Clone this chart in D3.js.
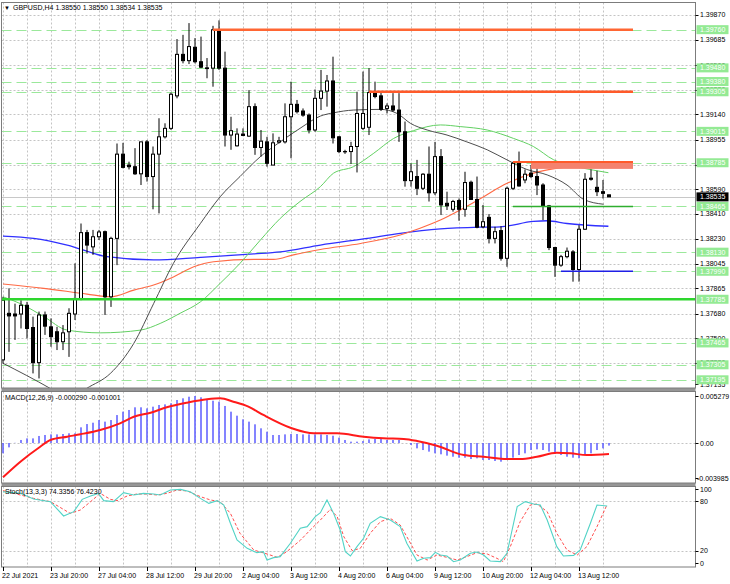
<!DOCTYPE html>
<html>
<head>
<meta charset="utf-8">
<script src="https://cdn.jsdelivr.net/npm/d3@7"></script>
<style>
  body { margin: 0; background: #fff; }
  svg text { font-family: "Liberation Sans", Arial, sans-serif; font-size: 7px; fill: #000; }
</style>
</head>
<body>
<script>
// ---- data ----
const opens = [1.37341,1.37682,1.37677,1.37677,1.37741,1.37578,1.37321,1.37670,1.37583,1.37547,
  1.37474,1.37547,1.37677,1.37791,1.38273,1.38169,1.38243,1.38280,1.37803,1.38231,
  1.38848,1.38768,1.38756,1.38704,1.38938,1.38684,1.38848,1.38975,1.39037,1.39275,
  1.39579,1.39533,1.39631,1.39525,1.39480,1.39478,1.39759,1.39478,1.38988,1.38909,
  1.38995,1.38980,1.39196,1.38897,1.38938,1.38768,1.38936,1.38938,1.39122,1.39213,
  1.39164,1.39134,1.39025,1.39257,1.39310,1.39384,1.38975,1.38867,1.38867,1.38904,
  1.39037,1.39045,1.39295,1.39275,1.39183,1.39201,1.39171,1.39012,1.38654,1.38684,
  1.38598,1.38701,1.38565,1.38830,1.38488,1.38444,1.38508,1.38444,1.38642,1.38516,
  1.38316,1.38385,1.38231,1.38288,1.38085,1.38598,1.38781,1.38659,1.38709,1.38684,
  1.38622,1.38469,1.38164,1.38035,1.38097,1.38132,1.38003,1.38298,1.38672,1.38605,
  1.38573,1.38550];
const highs = [1.37803,1.37865,1.37753,1.37778,1.37766,1.37658,1.37695,1.37695,1.37645,1.37583,
  1.37596,1.37719,1.38048,1.38340,1.38293,1.38293,1.38293,1.38288,1.38243,1.38926,
  1.38931,1.38793,1.38892,1.38938,1.38951,1.38904,1.39111,1.39074,1.39299,1.39691,
  1.39722,1.39808,1.39698,1.39709,1.39552,1.39788,1.39828,1.39599,1.39122,1.39037,
  1.39037,1.39317,1.39220,1.39025,1.38975,1.39000,1.38975,1.39220,1.39379,1.39245,
  1.39183,1.39146,1.39322,1.39465,1.39428,1.39562,1.38980,1.38880,1.38938,1.39305,
  1.39453,1.39478,1.39379,1.39305,1.39220,1.39295,1.39295,1.39087,1.38781,1.38806,
  1.38709,1.38904,1.38938,1.38885,1.38573,1.38513,1.38523,1.38719,1.38654,1.38684,
  1.38476,1.38409,1.38316,1.38320,1.38610,1.38793,1.38867,1.38736,1.38768,1.38786,
  1.38635,1.38476,1.38169,1.38110,1.38164,1.38145,1.38328,1.38709,1.38736,1.38726,
  1.38659,1.38550];
const lows = [1.37316,1.37400,1.37487,1.37571,1.37499,1.37242,1.37205,1.37524,1.37437,1.37413,
  1.37413,1.37363,1.37633,1.37778,1.38120,1.38110,1.38219,1.37670,1.37729,1.38035,
  1.38744,1.38736,1.38696,1.38622,1.38647,1.38444,1.38414,1.38963,1.39025,1.39257,
  1.39513,1.39508,1.39513,1.39478,1.39404,1.39342,1.39465,1.38904,1.38880,1.38904,
  1.38980,1.38975,1.38843,1.38830,1.38756,1.38768,1.38926,1.38926,1.38818,1.39146,
  1.39122,1.39000,1.39012,1.39171,1.39196,1.38926,1.38855,1.38850,1.38776,1.38714,
  1.39025,1.38988,1.39257,1.39164,1.39146,1.39159,1.38938,1.38610,1.38610,1.38548,
  1.38585,1.38501,1.38548,1.38402,1.38439,1.38427,1.38360,1.38390,1.38513,1.38305,
  1.38305,1.38194,1.38194,1.38068,1.38023,1.38585,1.38610,1.38635,1.38672,1.38548,
  1.38365,1.38145,1.37949,1.38023,1.38085,1.37914,1.37914,1.38293,1.38654,1.38541,
  1.38523,1.38534];
const closes = [1.37778,1.37663,1.37663,1.37741,1.37571,1.37321,1.37670,1.37588,1.37511,1.37474,
  1.37539,1.37682,1.37791,1.38273,1.38182,1.38243,1.38278,1.37803,1.38231,1.38848,
  1.38751,1.38756,1.38704,1.38938,1.38684,1.38848,1.38975,1.39037,1.39287,1.39579,
  1.39533,1.39636,1.39525,1.39485,1.39475,1.39759,1.39478,1.38988,1.39020,1.38995,
  1.38985,1.39196,1.38897,1.38943,1.38781,1.38931,1.38946,1.39122,1.39213,1.39159,
  1.39134,1.39025,1.39257,1.39310,1.39384,1.38968,1.38867,1.38865,1.38904,1.39146,
  1.39146,1.39299,1.39270,1.39176,1.39201,1.39171,1.39012,1.38654,1.38719,1.38598,
  1.38701,1.38565,1.38830,1.38476,1.38469,1.38501,1.38444,1.38640,1.38516,1.38313,
  1.38353,1.38231,1.38280,1.38085,1.38598,1.38781,1.38615,1.38701,1.38684,1.38622,
  1.38469,1.38164,1.38035,1.38097,1.38137,1.38003,1.38298,1.38664,1.38664,1.38573,
  1.38561,1.38535];

// moving averages: [bar index, price]
const maBlack = [[0,1.37316],[7.9,1.37131],[11,1.37050],[13.9,1.37131],[17.9,1.37242],[21.8,1.37462],
  [25.1,1.37753],[28.4,1.38048],[32.9,1.38340],[36.2,1.38536],[39.5,1.38684],[42.9,1.38830],
  [46.2,1.38938],[49.5,1.39037],[52.9,1.39127],[55.1,1.39151],[58.4,1.39171],[62.9,1.39176],
  [65.7,1.39146],[67.9,1.39074],[70.7,1.39025],[74,1.38988],[77.3,1.38938],[80.7,1.38880],
  [84,1.38806],[87.3,1.38736],[90.7,1.38696],[94,1.38622],[96.8,1.38516],[100.1,1.38481]];
const maGreen = [[0,1.37803],[2.9,1.37753],[6.8,1.37658],[10.7,1.37559],[16.2,1.37539],[22.9,1.37559],
  [26.2,1.37608],[29.5,1.37682],[32.9,1.37766],[36.2,1.37902],[39.5,1.38048],[42.9,1.38219],
  [46.2,1.38377],[49.5,1.38501],[52.9,1.38610],[55.1,1.38709],[58.4,1.38756],[61.8,1.38855],
  [65.1,1.38963],[68.4,1.39020],[72.9,1.39062],[76.2,1.39050],[80.7,1.39025],[85.1,1.38963],
  [88.4,1.38904],[91.8,1.38806],[95.1,1.38761],[98.4,1.38731],[100.9,1.38712]];
const maOrange = [[0,1.37897],[6.8,1.37865],[14,1.37823],[17.9,1.37803],[21.8,1.37852],[25.1,1.37889],
  [28.4,1.37949],[31.8,1.38023],[35.1,1.38060],[41.8,1.38077],[45.1,1.38077],[48.4,1.38110],
  [52.9,1.38150],[59.6,1.38194],[66.2,1.38256],[69.5,1.38305],[72.9,1.38365],[76.2,1.38439],
  [79.6,1.38523],[82.9,1.38610],[88.4,1.38709],[95.1,1.38761],[100.9,1.38793]];
const maBlue = [[0,1.38248],[5.1,1.38231],[10.7,1.38182],[17.3,1.38097],[25.1,1.38073],[32.9,1.38092],
  [41.8,1.38117],[46.2,1.38132],[52.9,1.38182],[60.7,1.38231],[66.2,1.38268],[72.9,1.38300],
  [79.6,1.38313],[82.9,1.38316],[88.4,1.38355],[90.7,1.38360],[94,1.38340],[100.9,1.38320]];

// horizontal levels
const priceTicks = [1.39870,1.39685,1.39500,1.39320,1.39140,1.38955,1.38770,1.38590,
  1.38410,1.38230,1.38045,1.37865,1.37680,1.37500,1.37320,1.37135];
const dashedLevels = [1.39760,1.39480,1.39380,1.39305,1.39015,1.38785,1.38465,
  1.38130,1.37990,1.37785,1.37465,1.37305,1.37195];
const segPrices = [1.39760,1.39305,1.38790,1.38465,1.37990];
const segStart = [35,61,85,85,93];
const segEnd = 105;
const zoneTop = 1.38790, zoneBottom = 1.38740, zoneStart = 88;
const supportPrice = 1.37785;

// MACD(12,26,9)
const macdHist = [-0.00116,-0.00049,0.00002,0.00034,0.00052,0.00052,0.00079,0.00090,0.00097,0.00097,
  0.00101,0.00109,0.00109,0.00176,0.00213,0.00228,0.00258,0.00240,0.00258,0.00314,
  0.00352,0.00371,0.00401,0.00401,0.00389,0.00408,0.00427,0.00434,0.00446,0.00483,
  0.00502,0.00520,0.00528,0.00513,0.00483,0.00475,0.00464,0.00416,0.00352,0.00307,
  0.00266,0.00240,0.00210,0.00165,0.00127,0.00090,0.00090,0.00097,0.00101,0.00101,
  0.00097,0.00097,0.00097,0.00097,0.00090,0.00082,0.00060,0.00034,0.00015,0.00015,
  0.00022,0.00041,0.00045,0.00045,0.00034,0.00034,0.00034,0.00000,-0.00022,-0.00060,
  -0.00079,-0.00097,-0.00116,-0.00127,-0.00142,-0.00154,-0.00165,-0.00165,-0.00180,-0.00172,
  -0.00191,-0.00191,-0.00202,-0.00210,-0.00191,-0.00165,-0.00135,-0.00116,-0.00079,-0.00071,
  -0.00079,-0.00097,-0.00116,-0.00135,-0.00154,-0.00165,-0.00172,-0.00135,-0.00116,-0.00079,
  -0.00060,-0.00029];
const macdSignal = [[0,-0.00385],[2.9,-0.00210],[6.2,-0.00042],[7.9,0.00034],[10.7,0.00071],
  [12.9,0.00098],[16.2,0.00146],[19.5,0.00221],[21.8,0.00295],[24.6,0.00340],[27.3,0.00401],
  [30.7,0.00453],[34,0.00491],[36.2,0.00502],[38.4,0.00464],[40.9,0.00408],[43.4,0.00315],
  [47.9,0.00172],[51.8,0.00109],[55.7,0.00109],[60.1,0.00071],[63.4,0.00053],[66.8,0.00045],
  [69,0.00023],[72.3,-0.00030],[76.8,-0.00135],[80.1,-0.00154],[84,-0.00180],[86.2,-0.00180],
  [89,-0.00154],[92.3,-0.00109],[94.6,-0.00116],[97.3,-0.00135],[101,-0.00124]];
const macdTicks = [0.005279, 0, -0.003985];
const macdTickText = ["0.005279", "0.00", "-0.003985"];

// Stochastic(13,3,3)
const stochMain = [[0,91.8],[2.9,89.8],[5.1,82.9],[7.9,79.7],[10.1,62.2],[11.8,67.5],[13.2,82.5],
  [14.6,86.6],[15.9,89.8],[16.8,80.9],[18.4,79.7],[20.1,90.7],[21.8,87.8],[23.4,89.8],[25.1,89.0],
  [26.2,87.8],[27.9,93.9],[29.6,94.7],[31.2,91.8],[32.9,83.7],[34.3,77.6],[35.7,80.9],[36.8,75.6],
  [37.9,53.3],[39,32.9],[40.7,22.8],[42.3,17.5],[43.4,18.7],[44,8.5],[45.1,11.4],[46.2,12.6],
  [47.9,28.9],[49.55,47.2],[50.7,49.2],[52.05,61.4],[52.9,66.3],[54,81.7],[55.1,65.4],[56.2,45.1],
  [57.05,18.7],[57.9,13.4],[59,24.8],[60.1,35.0],[61.2,53.3],[62.9,61.4],[64.55,57.3],[66.2,49.2],
  [67.3,28.9],[69,7.3],[70.1,10.6],[71.2,11.4],[72.05,17.9],[72.9,14.6],[74,13.4],[75.1,6.5],
  [76.2,8.5],[77.9,16.7],[79,18.3],[80.1,14.6],[81.2,7.3],[82.9,6.5],[84,16.7],[85.7,73.6],
  [87.05,79.7],[88.45,76.8],[89.55,75.6],[90.7,57.3],[92.3,24.8],[93.4,13.4],[95.1,14.2],
  [96.2,20.7],[97.9,53.3],[99,75.6],[100.7,74.3]];
const stochSignal = [[0,93.1],[2.9,87.8],[5.1,83.7],[7.9,79.7],[11.2,65.4],[12.9,69.5],[14.6,79.7],
  [16.2,89.8],[17.9,82.5],[19,80.9],[20.7,86.6],[22.3,89.0],[24,89.0],[25.7,87.8],[27.3,89.8],
  [29,93.9],[30.7,92.7],[32.9,85.8],[34.6,81.7],[36.2,79.7],[37.9,65.4],[39.5,41.1],[41.8,20.7],
  [44,15.9],[45.7,11.8],[47.3,18.7],[49.6,32.9],[51.2,45.1],[52.9,57.3],[54.55,70.3],[55.7,61.4],
  [56.8,37.0],[58.2,19.9],[59.55,22.8],[61.2,41.1],[62.9,55.3],[64.55,59.3],[66.2,51.2],[67.3,37.0],
  [69,14.6],[70.7,8.5],[72.3,14.6],[74,11.8],[75.7,8.5],[77.3,12.6],[79,17.5],[80.7,15.9],
  [82.3,10.6],[83.4,6.5],[84.55,24.8],[86.2,55.3],[87.9,75.6],[89,76.8],[90.7,67.5],[92.3,41.1],
  [94,20.7],[95.7,14.6],[97.3,24.8],[99,49.2],[100.7,76.4]];
const stochTicks = [100, 80, 20, 0];

const timeLabels = ["22 Jul 2021","23 Jul 20:00","27 Jul 04:00","28 Jul 12:00","29 Jul 20:00",
  "2 Aug 04:00","3 Aug 12:00","4 Aug 20:00","6 Aug 04:00","9 Aug 12:00","10 Aug 20:00",
  "12 Aug 04:00","13 Aug 12:00"];

// ---- layout ----
const width = 730, height = 584;
const left = 1.5, right = 695.5;
const mainP = { top: 2.5, bottom: 388 };
const macdP = { top: 391.5, bottom: 483 };
const stochP = { top: 486.5, bottom: 567 };

const svg = d3.select("body").append("svg")
  .attr("width", width).attr("height", height)
  .style("display", "block");

const x = d3.scaleLinear().domain([0, 101]).range([3, 609]);
const y = d3.scaleLinear().domain([1.37135, 1.39956]).range([388, 2.9]);
const yM = d3.scaleLinear().domain([-0.004493, 0.005841]).range([483, 391]);
const yS = d3.scaleLinear().domain([0, 100]).range([567, 485]);

const defs = svg.append("defs");
[["clipMain", mainP], ["clipMacd", macdP], ["clipStoch", stochP]].forEach(([id, p]) => {
  defs.append("clipPath").attr("id", id).append("rect")
    .attr("x", left).attr("y", p.top).attr("width", right - left).attr("height", p.bottom - p.top);
});

// separators between panels
svg.append("rect").attr("x", left).attr("y", 388).attr("width", right - left).attr("height", 3.5).attr("fill", "#969696");
svg.append("rect").attr("x", left).attr("y", 483).attr("width", right - left).attr("height", 3.5).attr("fill", "#969696");

const gridIdx = d3.range(0, 102, 4);
const dotted = "2,2";
function vGrid(p) {
  svg.append("g").selectAll("line").data(gridIdx).join("line")
    .attr("x1", d => x(d) + 0.5).attr("x2", d => x(d) + 0.5)
    .attr("y1", p.top).attr("y2", p.bottom)
    .attr("stroke", "#c4c4c4").attr("stroke-dasharray", dotted);
}
[mainP, macdP, stochP].forEach(vGrid);

// main panel horizontal grid
svg.append("g").selectAll("line").data(priceTicks.slice(0, -1)).join("line")
  .attr("x1", left).attr("x2", right)
  .attr("y1", d => Math.round(y(d)) + 0.5).attr("y2", d => Math.round(y(d)) + 0.5)
  .attr("stroke", "#c4c4c4").attr("stroke-dasharray", dotted);

// green dashed levels
svg.append("g").selectAll("line").data(dashedLevels).join("line")
  .attr("x1", left).attr("x2", right)
  .attr("y1", d => Math.round(y(d)) + 0.5).attr("y2", d => Math.round(y(d)) + 0.5)
  .attr("stroke", "#9be89b").attr("stroke-dasharray", "10,5");

// bid line
const bid = closes[closes.length - 1];
svg.append("line").attr("x1", left).attr("x2", right)
  .attr("y1", Math.round(y(bid)) + 0.5).attr("y2", Math.round(y(bid)) + 0.5)
  .attr("stroke", "#c8c8c8");

// moving averages
const gMain = svg.append("g").attr("clip-path", "url(#clipMain)");
const maLine = d3.line().x(d => x(d[0])).y(d => y(d[1])).curve(d3.curveMonotoneX);
[[maBlue, "#3030ff", 1.3], [maOrange, "#ff6a45", 1.1], [maGreen, "#62d062", 1], [maBlack, "#3a3a3a", 0.9]]
  .forEach(([data, color, w]) => {
    gMain.append("path").datum(data).attr("d", maLine)
      .attr("fill", "none").attr("stroke", color).attr("stroke-width", w);
  });

// candles
const bars = d3.range(opens.length);
gMain.append("g").selectAll("line").data(bars).join("line")
  .attr("x1", i => x(i)).attr("x2", i => x(i))
  .attr("y1", i => y(highs[i])).attr("y2", i => y(lows[i]))
  .attr("stroke", "#000").attr("stroke-width", 1);
gMain.append("g").selectAll("rect").data(bars).join("rect")
  .attr("x", i => x(i) - 1.5).attr("width", 3)
  .attr("y", i => y(Math.max(opens[i], closes[i])))
  .attr("height", i => Math.max(0.01, Math.abs(y(opens[i]) - y(closes[i]))))
  .attr("fill", i => closes[i] >= opens[i] ? "#fff" : "#000")
  .attr("stroke", "#000").attr("stroke-width", 1);

// level objects
gMain.append("rect")
  .attr("x", x(zoneStart)).attr("width", x(segEnd) - x(zoneStart))
  .attr("y", y(zoneTop)).attr("height", y(zoneBottom) - y(zoneTop))
  .attr("fill", "#f4826e");
const segColor = ["#ff6633", "#ff5a2a", "#ff5a2a", "#2fae2f", "#1f1fe6"];
const segWidth = [2.5, 2.5, 2, 1.6, 1.6];
gMain.append("g").selectAll("line").data(segPrices).join("line")
  .attr("x1", (d, k) => x(segStart[k])).attr("x2", x(segEnd))
  .attr("y1", d => y(d)).attr("y2", d => y(d))
  .attr("stroke", (d, k) => segColor[k]).attr("stroke-width", (d, k) => segWidth[k]);
gMain.append("line").attr("x1", left).attr("x2", right)
  .attr("y1", y(supportPrice)).attr("y2", y(supportPrice))
  .attr("stroke", "#2ed62e").attr("stroke-width", 2.5);

// MACD panel
svg.append("line").attr("x1", left).attr("x2", right)
  .attr("y1", Math.round(yM(0)) + 0.5).attr("y2", Math.round(yM(0)) + 0.5)
  .attr("stroke", "#c4c4c4").attr("stroke-dasharray", dotted);
const gMacd = svg.append("g").attr("clip-path", "url(#clipMacd)");
gMacd.selectAll("rect").data(macdHist).join("rect")
  .attr("x", (d, i) => x(i) - 0.75).attr("width", 1.5)
  .attr("y", d => Math.min(yM(d), yM(0)))
  .attr("height", d => Math.abs(yM(d) - yM(0)))
  .attr("fill", "#5c5cff");
gMacd.append("path").datum(macdSignal)
  .attr("d", d3.line().x(d => x(d[0])).y(d => yM(d[1])).curve(d3.curveMonotoneX))
  .attr("fill", "none").attr("stroke", "#ff1a1a").attr("stroke-width", 2);

// Stochastic panel
svg.append("g").selectAll("line").data([80, 20]).join("line")
  .attr("x1", left).attr("x2", right)
  .attr("y1", d => Math.round(yS(d)) + 0.5).attr("y2", d => Math.round(yS(d)) + 0.5)
  .attr("stroke", "#c4c4c4").attr("stroke-dasharray", dotted);
const gSt = svg.append("g").attr("clip-path", "url(#clipStoch)");
const stLine = d3.line().x(d => x(d[0])).y(d => yS(d[1]));
gSt.append("path").datum(stochSignal).attr("d", stLine)
  .attr("fill", "none").attr("stroke", "#ff4d4d").attr("stroke-width", 1).attr("stroke-dasharray", "3,2");
gSt.append("path").datum(stochMain).attr("d", stLine)
  .attr("fill", "none").attr("stroke", "#52d3c6").attr("stroke-width", 1.1);

// panel frames
[mainP, macdP, stochP].forEach(p => {
  svg.append("rect").attr("x", left).attr("y", p.top)
    .attr("width", right - left).attr("height", p.bottom - p.top)
    .attr("fill", "none").attr("stroke", "#7c7c7c");
});

// right price axis
const axisX = 700;
const clampY = (v, lo, hi) => Math.max(lo, Math.min(hi, v));
function rightTick(yy, txt, tx) {
  svg.append("line").attr("x1", right).attr("x2", right + 3)
    .attr("y1", Math.round(yy) + 0.5).attr("y2", Math.round(yy) + 0.5).attr("stroke", "#000");
  svg.append("text").attr("x", tx || axisX).attr("y", yy + 2.5).text(txt);
}
priceTicks.forEach(p => rightTick(clampY(y(p), 8, 384), d3.format(".5f")(p)));

// green level labels
const gLab = svg.append("g");
dashedLevels.forEach(p => {
  const yy = y(p);
  gLab.append("rect").attr("x", right + 1).attr("y", yy - 4.5).attr("width", 32).attr("height", 9)
    .attr("fill", "#94ea94");
  gLab.append("text").attr("x", axisX).attr("y", yy + 2.5).style("fill", "#fff").text(d3.format(".5f")(p));
});
// current price label
svg.append("rect").attr("x", right + 1).attr("y", y(bid) - 4.5).attr("width", 32).attr("height", 9).attr("fill", "#000");
svg.append("text").attr("x", axisX).attr("y", y(bid) + 2.5).style("fill", "#fff").text(d3.format(".5f")(bid));

// MACD axis
macdTicks.forEach((v, k) => rightTick(clampY(yM(v), 396, 478), macdTickText[k], v < 0 ? 697 : axisX));
// Stoch axis
stochTicks.forEach(v => rightTick(clampY(yS(v), 489, 563), String(v)));

// time axis
const timeIdx = d3.range(0, 97, 8);
svg.append("g").selectAll("line").data(timeIdx).join("line")
  .attr("x1", d => x(d) + 0.5).attr("x2", d => x(d) + 0.5)
  .attr("y1", 567).attr("y2", 571).attr("stroke", "#000");
svg.append("g").selectAll("text").data(timeLabels).join("text")
  .attr("x", (d, k) => x(timeIdx[k]) - 1).attr("y", 578).text(d => d);

// panel captions
svg.append("text").attr("x", 4).attr("y", 9.5).style("font-size", "6px").text("\u25BC");
svg.append("text").attr("x", 13).attr("y", 10)
  .text("GBPUSD,H4  " + [opens[101], highs[101], lows[101], closes[101]].map(d3.format(".5f")).join(" "));
svg.append("text").attr("x", 5).attr("y", 400).text("MACD(12,26,9) -0.000290 -0.001001");
svg.append("text").attr("x", 5).attr("y", 494).text("Stoch(13,3,3) 74.3356 76.4230");
</script>
</body>
</html>
